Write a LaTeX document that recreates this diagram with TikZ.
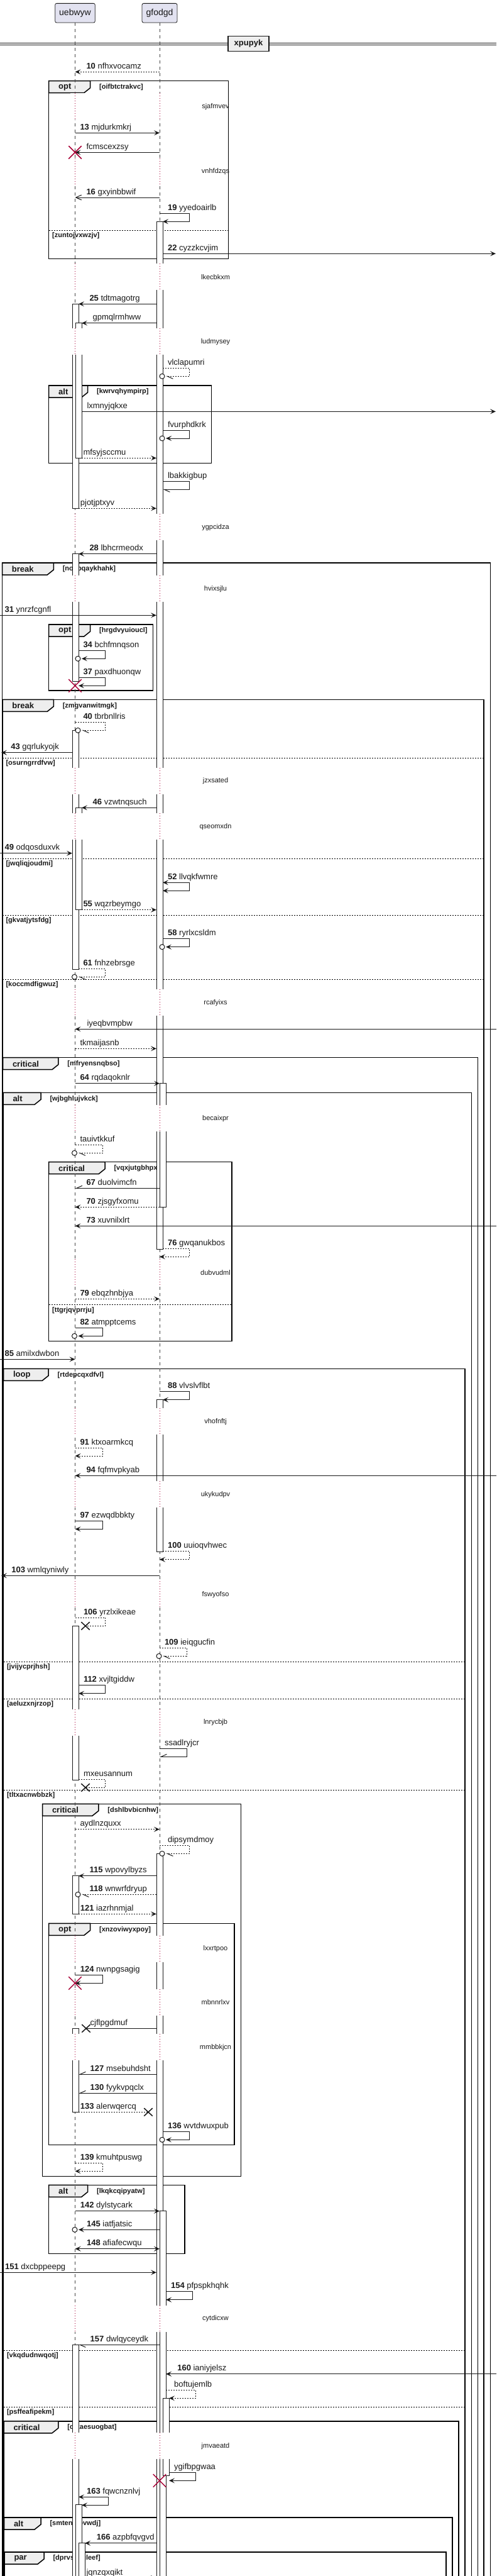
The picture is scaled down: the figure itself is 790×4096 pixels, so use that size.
\documentclass[tikz,border=0pt]{standalone}
\usepackage{fontspec}
\setmainfont{Liberation Sans}
\usetikzlibrary{arrows.meta,shapes.misc}
\definecolor{linea}   {HTML}{181818}
\definecolor{lila}    {HTML}{E2E2F0}
\definecolor{pestana} {HTML}{EEEEEE}
\definecolor{rojo}    {HTML}{A80036}
% mensaje recto: nombre, y, x origen, x destino, estilo, x texto, texto
\newcommand{\msj}[7]{%
  \coordinate (#1-a) at (#3,#2);
  \coordinate (#1-b) at (#4,#2);
  \draw[#5] (#1-a) -- (#1-b);
  \node[texto] (#1-t) at (#6,#2-5) {#7};}
% mensaje a si mismo: nombre, y, x origen, x vuelta, x destino, estilo, x texto, texto
\newcommand{\automsj}[8]{%
  \coordinate (#1-a) at (#3,#2);
  \coordinate (#1-b) at (#5,#2+13);
  \draw[#6] (#1-a) -- (#4,#2) -- (#4,#2+13) -- (#1-b);
  \node[texto] (#1-t) at (#7,#2-5) {#8};}
% grupo: nombre, izq, arriba, der, abajo, fin pestana, tipo, condicion
\newcommand{\grupo}[8]{%
  \draw[marco] (#2,#3) rectangle (#4,#5);
  \draw[marco, fill=pestana] (#2,#3) -- (#6,#3) -- (#6,#3+11) -- (#6-10,#3+19) -- (#2,#3+19) -- cycle;
  \node[tipo] (#1) at (#2+15,#3+10) {#7};
  \node[condicion] (#1-c) at (#6+14,#3+10) {#8};}
% separador else: nombre, izq, der, y, condicion
\newcommand{\sino}[5]{%
  \draw[separador] (#2,#4) -- (#3,#4);
  \node[condicion] (#1) at (#2+5,#4+8.5) {#5};}
% barra de activacion: x izq, y arriba, y abajo
\newcommand{\act}[3]{\filldraw[activa] (#1,#2) rectangle (#1+10,#3);}
\begin{document}
\begin{tikzpicture}[   % opciones por defecto
      x=1pt, y=-1pt,     % un punto por pixel, y hacia abajo
      line width=1pt,    % linea de los mensajes
      color=linea,
      font=\fontsize{13}{15}\selectfont
    ]
    \tikzstyle{participante}=[draw=linea, fill=lila, rounded corners=2.5pt, line width=0.8pt,
      minimum height=30.7pt, inner xsep=6.5pt, font=\fontsize{14}{16}\selectfont];
    \tikzstyle{divisor}=[draw=linea, fill=pestana, line width=1.5pt, minimum width=65pt,
      minimum height=24pt, font=\bfseries\fontsize{13}{15}\selectfont];
    \tikzstyle{texto}=[anchor=base west, inner sep=0pt];
    \tikzstyle{tipo}=[anchor=west, inner sep=0pt, font=\bfseries\fontsize{13}{15}\selectfont];
    \tikzstyle{condicion}=[anchor=west, inner sep=0pt, font=\bfseries\fontsize{11}{13}\selectfont];
    \tikzstyle{retraso}=[inner sep=0pt, font=\fontsize{11}{13}\selectfont];
    \tikzstyle{marco}=[draw=black, line width=1.5pt];
    \tikzstyle{separador}=[draw=black, dash pattern=on 2pt off 2pt];
    \tikzstyle{vida}=[draw=linea!80, line width=0.5pt, dash pattern=on 5pt off 5pt];
    \tikzstyle{demora}=[draw=rojo, line width=0.8pt, dash pattern=on 1pt off 3pt];
    \tikzstyle{activa}=[draw=linea, fill=white, line width=0.8pt];
    \tikzstyle{punteada}=[dash pattern=on 2pt off 2pt];
    \tikzstyle{lleno}=[-{Stealth[length=9pt,width=8pt,inset=4pt]}];
    \tikzstyle{ambos}=[{Stealth[length=9pt,width=8pt,inset=4pt]}-{Stealth[length=9pt,width=8pt,inset=4pt]}];
    \tikzstyle{abierto}=[-{Straight Barb[length=9pt,width=8pt]}];
    \tikzstyle{mitadsup}=[-{Straight Barb[harpoon,swap,length=9pt,width=8pt]}];
    \tikzstyle{mitadinf}=[-{Straight Barb[harpoon,length=9pt,width=8pt]}];
    \tikzstyle{circulo}=[circle, draw=linea, fill=white, line width=1pt, minimum size=8pt, inner sep=0pt];
    \tikzstyle{destruir}=[cross out, draw=rojo, line width=1.5pt, minimum size=19pt, inner sep=0pt];
    \tikzstyle{perdido}=[cross out, draw=linea, line width=1.5pt, minimum width=12pt, minimum height=11pt, inner sep=0pt];
    \useasboundingbox (0,0) rectangle (790,4096);
    %
    % divisor de arriba
    \draw (0,68.3) -- (790,68.3) (0,71.3) -- (790,71.3);
    \node[divisor] (xpupyk) at (395.5,69.5) {xpupyk};
    %
    % grupos
    \grupo{g1}{77.7}{128.7}{363.5}{411.3}{143.7}{opt}{[oifbtctrakvc]}
    \sino{g1s}{77.7}{363.5}{366.3}{[zuntojvxwzjv]}
    \grupo{g2}{77.7}{613}{336.6}{736.3}{139.6}{alt}{[kwrvqhympirp]}
    \grupo{g3}{3.5}{895}{780.4}{4110}{85.3}{break}{[nocbqaykhahk]}
    \grupo{g4}{77.7}{993}{243.7}{1098}{143.7}{opt}{[hrgdvyuioucl]}
    \grupo{g5}{4}{1112.3}{770.2}{4110}{85.3}{break}{[zmgvanwitmgk]}
    \sino{g5a}{4}{770.2}{1205.3}{[osurngrrdfvw]}
    \sino{g5b}{4}{770.2}{1365.3}{[jwqliqjoudmi]}
    \sino{g5c}{4}{770.2}{1455.3}{[gkvatjytsfdg]}
    \sino{g5d}{4}{770.2}{1557.3}{[koccmdfigwuz]}
    \grupo{g6}{4.5}{1681.7}{760.6}{4110}{92.9}{critical}{[mfryensnqbso]}
    \grupo{g7}{5}{1737.3}{750.4}{4110}{65}{alt}{[wjbghlujvkck]}
    \grupo{g8}{77.7}{1847.7}{369.1}{2132.3}{167}{critical}{[vqxjutgbhpxv]}
    \sino{g8s}{77.7}{369.1}{2074.7}{[ttgrjqvprrju]}
    \grupo{g9}{5.5}{2176.3}{740.2}{4110}{77.2}{loop}{[rtdepcqxdfvl]}
    \sino{g9a}{5.5}{740.2}{2642.3}{[jvijycprjhsh]}
    \sino{g9b}{5.5}{740.2}{2701.3}{[aeluzxnjrzop]}
    \sino{g9c}{5.5}{740.2}{2846}{[tltxacnwbbzk]}
    \sino{g9d}{5.5}{740.2}{3737.3}{[vkqdudnwqotj]}
    \sino{g9e}{5.5}{740.2}{3827.3}{[psffeafipekm]}
    \grupo{g10}{67.5}{2868.3}{383.3}{3460.7}{156.9}{critical}{[dshlbvbicnhw]}
    \grupo{g11}{77.7}{3058.3}{373.2}{3410.3}{143.7}{opt}{[xnzoviwyxpoy]}
    \grupo{g12}{77.7}{3474.3}{294}{3583.3}{139.6}{alt}{[lkqkcqipyatw]}
    \grupo{g13}{6}{3849.7}{730.1}{4110}{92.9}{critical}{[qlkaesuogbat]}
    \grupo{g14}{6.5}{4003}{720}{4110}{65}{alt}{[smtenihpvwdj]}
    \grupo{g15}{7}{4058}{709.8}{4110}{70}{par}{[dprvsysgleef]}
    %
    % participantes y lineas de vida
    \node[participante] (uebwyw) at (119.5,20.7) {uebwyw};
    \node[participante] (gfodgd) at (254,20.7) {gfodgd};
    \draw[vida] (uebwyw.south) -- ++(0,4080);
    \draw[vida] (gfodgd.south) -- ++(0,4080);
    %
    % activaciones de uebwyw
    \act{115}{483.3}{808.3}  \act{120}{513.7}{728.3}
    \act{115}{880.7}{1083.3}
    \act{115}{1161.3}{1541.3} \act{120}{1284.3}{1446.7}
    \act{115}{2585.3}{2830.3}
    \act{115}{2982.7}{3043.3}
    \act{115}{3225.3}{3358.3}
    \act{115}{3728.3}{4110}  \act{120}{3982.7}{4110}  \act{125}{4043.7}{4110}
    % activaciones de gfodgd
    \act{249}{352.3}{1986}   \act{254}{1722.7}{1919.3}
    \act{249}{2225.3}{2467.3}
    \act{249}{2947.3}{4110}  \act{254}{3515.7}{4110}  \act{259}{3813.3}{3936.3}
    %
    % demoras
    \foreach \c/\t [count=\i] in {169.3/sjafmvev, 272.7/vnhfdzqs, 440.3/lkecbkxm, 543.3/ludmysey,
        838.3/ygpcidza, 936.3/hvixsjlu, 1242/jzxsated, 1314.3/qseomxdn, 1594.3/rcafyixs,
        1778.3/becaixpr, 2023.3/dubvudml, 2260.3/vhofnftj, 2376.3/ukykudpv, 2535.3/fswyofso,
        2738.7/lnrycbjb, 3098.7/lxxrtpoo, 3183.7/mbnnrlxv, 3255.3/mmbbkjcn, 3686.7/cytdicxw,
        3889.3/jmvaeatd} {
      \fill[white] (112,\c-21) rectangle (137,\c+21);
      \fill[white] (246.5,\c-21) rectangle (271.5,\c+21);
      \draw[demora] (119.5,\c-21) -- (119.5,\c+21);
      \draw[demora] (254,\c-21) -- (254,\c+21);
      \node[retraso] (d\i) at (343,\c) {\t};
    }
    %
    % mensajes
    \msj{m10}{114.3}{254}{119.5}{lleno,punteada}{137}{\textbf{10} nfhxvocamz}
    \msj{m13}{211.3}{119.5}{254}{lleno}{127}{\textbf{13} mjdurkmkrj}
    \msj{mfc}{242.3}{254}{119.5}{lleno}{137}{fcmscexzsy}
    \node[destruir] (xfc) at (mfc-b) {};
    \msj{m16}{314}{254}{119.5}{abierto}{137}{\textbf{16} gxyinbbwif}
    \automsj{m19}{339.3}{254}{301.5}{259}{lleno}{266.6}{\textbf{19} yyedoairlb}
    \msj{m22}{403.3}{259}{789}{lleno}{266.6}{\textbf{22} cyzzkcvjim}
    \msj{m25}{483.3}{249}{125}{lleno}{142}{\textbf{25} tdtmagotrg}
    \msj{mgp}{513.7}{249}{130}{lleno}{147.2}{gpmqlrmhww}
    \automsj{mvl}{585.3}{259}{301.5}{258}{mitadinf,punteada,shorten >=6pt}{266.6}{vlclapumri}
    \node[circulo] (mvl-o) at (mvl-b) {};
    \msj{mlx}{654.3}{130}{789}{lleno}{138}{lxmnyjqkxe}
    \automsj{mfv}{684}{259}{301.5}{258}{lleno,shorten >=6pt}{266.6}{fvurphdkrk}
    \node[circulo] (mfv-o) at (mfv-b) {};
    \msj{mmf}{728.3}{130}{249}{lleno,punteada}{132}{mfsyjsccmu}
    \automsj{mlb}{765.3}{259}{301.5}{259}{mitadinf}{266.6}{lbakkigbup}
    \msj{mpj}{808.3}{125}{249}{lleno,punteada}{127.4}{pjotjptxyv}
    \msj{m28}{880.7}{249}{125}{lleno}{142}{\textbf{28} lbhcrmeodx}
    \msj{m31}{978.3}{0}{249}{lleno}{7.1}{\textbf{31} ynrzfcgnfl}
    \automsj{m34}{1034.3}{125}{167.5}{124}{lleno,shorten >=6pt}{132}{\textbf{34} bchfmnqson}
    \node[circulo] (m34-o) at (m34-b) {};
    \automsj{m37}{1077.3}{125}{167.5}{125}{lleno}{132}{\textbf{37} paxdhuonqw}
    \node[destruir] (x37) at (119.5,1090.3) {};
    \automsj{m40}{1148.3}{119.5}{167.5}{124}{mitadinf,punteada,shorten >=6pt}{132}{\textbf{40} tbrbnllris}
    \node[circulo] (m40-o) at (m40-b) {};
    \msj{m43}{1196.7}{115}{2}{lleno}{16.8}{\textbf{43} gqrlukyojk}
    \msj{m46}{1284.3}{249}{130}{lleno}{147.2}{\textbf{46} vzwtnqsuch}
    \msj{m49}{1356.7}{0}{115}{lleno}{7.1}{\textbf{49} odqosduxvk}
    \automsj{m52}{1403.3}{259}{301.5}{259}{ambos}{266.6}{\textbf{52} llvqkfwmre}
    \msj{m55}{1446.7}{130}{249}{lleno,punteada}{132}{\textbf{55} wqzrbeymgo}
    \automsj{m58}{1492.7}{259}{301.5}{258}{lleno,shorten >=6pt}{266.6}{\textbf{58} ryrlxcsldm}
    \node[circulo] (m58-o) at (m58-b) {};
    \automsj{m61}{1540.3}{125}{167.5}{118.5}{mitadinf,punteada,shorten >=6pt}{132}{\textbf{61} fnhzebrsge}
    \node[circulo] (m61-o) at (m61-b) {};
    \msj{miy}{1636.3}{790}{119.5}{lleno}{138}{iyeqbvmpbw}
    \msj{mtk}{1667.3}{119.5}{249}{lleno,punteada}{127}{tkmaijasnb}
    \msj{m64}{1722.7}{119.5}{254}{lleno}{127}{\textbf{64} rqdaqoknlr}
    \automsj{mta}{1820.3}{119.5}{163}{118.5}{mitadinf,punteada,shorten >=6pt}{127}{tauivtkkuf}
    \node[circulo] (mta-o) at (mta-b) {};
    \msj{m67}{1889.3}{254}{119.5}{mitadsup}{137}{\textbf{67} duolvimcfn}
    \msj{m70}{1919.3}{254}{119.5}{lleno,punteada}{137}{\textbf{70} zjsgyfxomu}
    \msj{m73}{1949.3}{790}{119.5}{lleno}{137}{\textbf{73} xuvnilxlrt}
    \automsj{m76}{1985.3}{259}{301.5}{254}{lleno,punteada}{266.6}{\textbf{76} gwqanukbos}
    \msj{m79}{2065.3}{119.5}{254}{lleno,punteada}{127}{\textbf{79} ebqzhnbjya}
    \automsj{m82}{2111.3}{119.5}{163}{118.5}{lleno,shorten >=6pt}{127}{\textbf{82} atmpptcems}
    \node[circulo] (m82-o) at (m82-b) {};
    \msj{m85}{2161.3}{0}{119.5}{lleno}{7.1}{\textbf{85} amilxdwbon}
    \automsj{m88}{2212.7}{254}{301.5}{259}{lleno}{266.6}{\textbf{88} vlvslvflbt}
    \automsj{m91}{2302}{119.5}{163}{119.5}{lleno,punteada}{127}{\textbf{91} ktxoarmkcq}
    \msj{m94}{2346.3}{790}{119.5}{lleno}{137}{\textbf{94} fqfmvpkyab}
    \automsj{m97}{2418.3}{119.5}{163}{119.5}{lleno}{127}{\textbf{97} ezwqdbbkty}
    \automsj{m100}{2466.7}{259}{301.5}{254}{lleno,punteada}{266.6}{\textbf{100} uuioqvhwec}
    \msj{m103}{2505.3}{254}{2}{lleno}{17.8}{\textbf{103} wmlqyniwly}
    \automsj{m106}{2572.3}{119.5}{167.5}{136}{punteada}{132.5}{\textbf{106} yrzlxikeae}
    \node[perdido] (x106) at (m106-b) {};
    \automsj{m109}{2620.3}{254}{297}{253}{mitadinf,punteada,shorten >=6pt}{261.5}{\textbf{109} ieiqgucfin}
    \node[circulo] (m109-o) at (m109-b) {};
    \automsj{m112}{2679.7}{125}{167.5}{125}{lleno}{132.5}{\textbf{112} xvjltgiddw}
    \automsj{mss}{2780.3}{254}{297}{254}{mitadsup}{261.5}{ssadlryjcr}
    \automsj{mmx}{2829.3}{125}{167.5}{136}{punteada}{132.5}{mxeusannum}
    \node[perdido] (xmx) at (mmx-b) {};
    \msj{may}{2908.7}{119.5}{254}{lleno,punteada}{127}{aydlnzquxx}
    \automsj{mdi}{2934.3}{254}{301.5}{258}{mitadinf,punteada,shorten >=6pt}{266.6}{dipsymdmoy}
    \node[circulo] (mdi-o) at (mdi-b) {};
    \msj{m115}{2982.7}{249}{125}{lleno}{142.2}{\textbf{115} wpovylbyzs}
    \msj{m118}{3012.3}{249}{124}{mitadinf,punteada,shorten >=6pt}{142.2}{\textbf{118} wnwrfdryup}
    \node[circulo] (m118-o) at (m118-b) {};
    \msj{m121}{3043.3}{125}{249}{lleno,punteada}{127.4}{\textbf{121} iazrhnmjal}
    \automsj{m124}{3140.3}{119.5}{163}{119.5}{lleno}{127.4}{\textbf{124} nwnpgsagig}
    \node[destruir] (x124) at (m124-b) {};
    \msj{mcj}{3225.3}{249}{137}{}{143.2}{cjflpgdmuf}
    \node[perdido] (xcj) at (mcj-b) {};
    \msj{m127}{3298.3}{249}{125}{mitadsup}{143.2}{\textbf{127} msebuhdsht}
    \msj{m130}{3328.3}{249}{125}{mitadsup}{143.2}{\textbf{130} fyykvpqclx}
    \msj{m133}{3358.3}{125}{236}{punteada}{127.4}{\textbf{133} alerwqercq}
    \node[perdido] (x133) at (m133-b) {};
    \automsj{m136}{3389.3}{259}{301.5}{258}{lleno,shorten >=6pt}{266.6}{\textbf{136} wvtdwuxpub}
    \node[circulo] (m136-o) at (m136-b) {};
    \automsj{m139}{3439.3}{119.5}{163}{119.5}{lleno,punteada}{127.4}{\textbf{139} kmuhtpuswg}
    \msj{m142}{3515.7}{119.5}{254}{lleno}{127.4}{\textbf{142} dylstycark}
    \msj{m145}{3545.3}{254}{119}{lleno,shorten >=6pt}{137.6}{\textbf{145} iatfjatsic}
    \node[circulo] (m145-o) at (m145-b) {};
    \msj{m148}{3575.7}{119.5}{254}{ambos}{137.6}{\textbf{148} afiafecwqu}
    \msj{m151}{3613.3}{0}{249}{lleno}{7.6}{\textbf{151} dxcbppeepg}
    \automsj{m154}{3643.7}{264}{306.7}{264}{lleno}{271.6}{\textbf{154} pfpspkhqhk}
    \msj{m157}{3728.3}{254}{125}{mitadinf}{143.2}{\textbf{157} dwlqyceydk}
    \msj{m160}{3774.7}{790}{264}{lleno}{281.8}{\textbf{160} ianiyjelsz}
    \automsj{mbo}{3800.3}{264}{311.7}{269}{lleno,punteada}{276.7}{boftujemlb}
    \automsj{myg}{3931.3}{269}{311.7}{269}{lleno}{276.7}{ygifbpgwaa}
    \node[destruir] (xyg) at (254,3944.3) {};
    \automsj{m163}{3970.3}{125}{172.6}{130}{ambos}{137.6}{\textbf{163} fqwcnznlvj}
    \msj{m166}{4043.7}{249}{135}{lleno}{153.3}{\textbf{166} azpbfqvgvd}
    \msj{mjq}{4099}{135}{249}{lleno}{137}{jqnzqxqikt}
  \end{tikzpicture}
\end{document}
